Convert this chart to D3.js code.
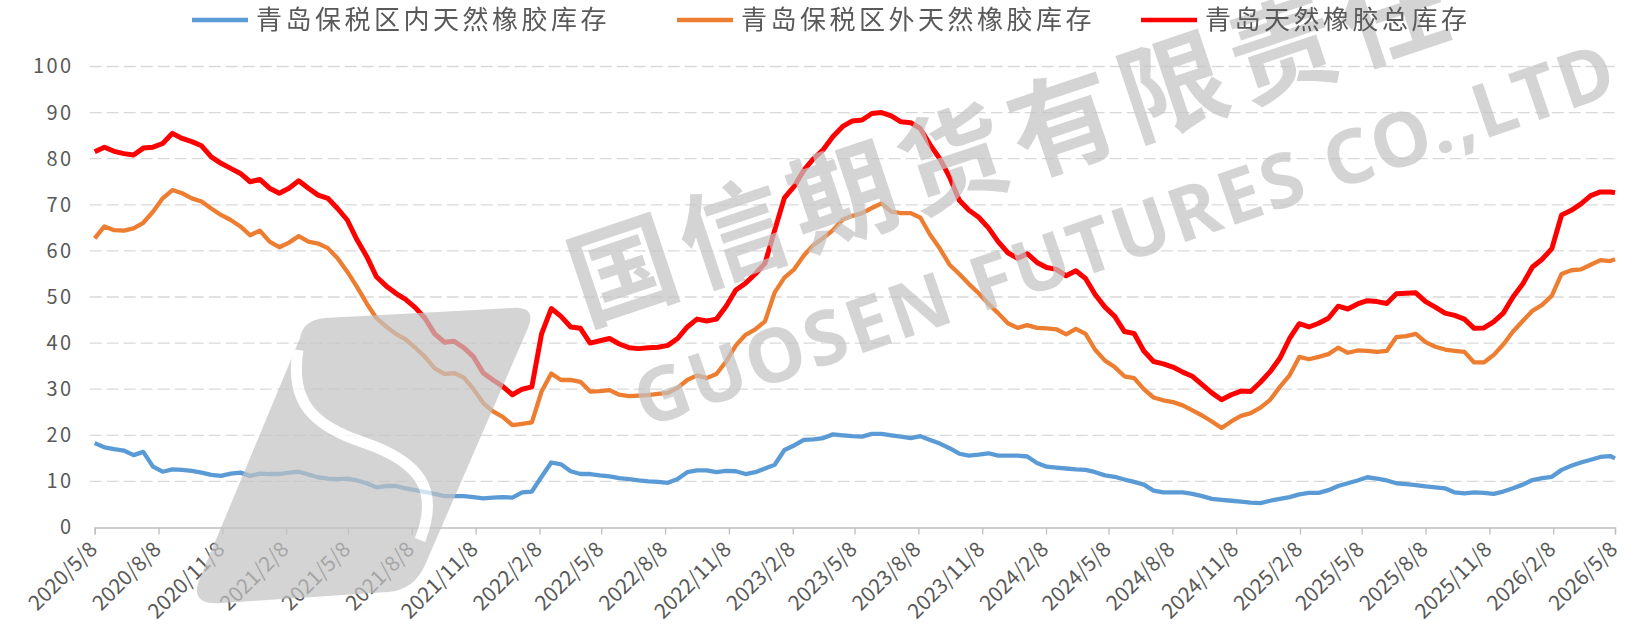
<!DOCTYPE html>
<html>
<head>
<meta charset="utf-8">
<script src="https://cdn.jsdelivr.net/npm/d3@7"></script>
<style>
  body { margin: 0; background: #fff; }
  svg { display: block; }
</style>
</head>
<body>
<div id="chart"></div>
<script>
// Fortnightly readings, 2020/5/8 - 2026/5/8 (10k t)
let dates = [
  '2020-05-08','2020-05-22','2020-06-05','2020-06-19','2020-07-03','2020-07-17','2020-07-31','2020-08-14',
  '2020-08-28','2020-09-11','2020-09-25','2020-10-09','2020-10-23','2020-11-06','2020-11-20','2020-12-04',
  '2020-12-18','2021-01-01','2021-01-15','2021-01-29','2021-02-12','2021-02-26','2021-03-12','2021-03-26',
  '2021-04-09','2021-04-23','2021-05-07','2021-05-21','2021-06-04','2021-06-18','2021-07-02','2021-07-16',
  '2021-07-30','2021-08-13','2021-08-27','2021-09-10','2021-09-24','2021-10-08','2021-10-22','2021-11-05',
  '2021-11-19','2021-12-03','2021-12-17','2021-12-31','2022-01-14','2022-01-28','2022-02-11','2022-02-25',
  '2022-03-11','2022-03-25','2022-04-08','2022-04-22','2022-05-06','2022-05-20','2022-06-03','2022-06-17',
  '2022-07-01','2022-07-15','2022-07-29','2022-08-12','2022-08-26','2022-09-09','2022-09-23','2022-10-07',
  '2022-10-21','2022-11-04','2022-11-18','2022-12-02','2022-12-16','2022-12-30','2023-01-13','2023-01-27',
  '2023-02-10','2023-02-24','2023-03-10','2023-03-24','2023-04-07','2023-04-21','2023-05-05','2023-05-19',
  '2023-06-02','2023-06-16','2023-06-30','2023-07-14','2023-07-28','2023-08-11','2023-08-25','2023-09-08',
  '2023-09-22','2023-10-06','2023-10-20','2023-11-03','2023-11-17','2023-12-01','2023-12-15','2023-12-29',
  '2024-01-12','2024-01-26','2024-02-09','2024-02-23','2024-03-08','2024-03-22','2024-04-05','2024-04-19',
  '2024-05-03','2024-05-17','2024-05-31','2024-06-14','2024-06-28','2024-07-12','2024-07-26','2024-08-09',
  '2024-08-23','2024-09-06','2024-09-20','2024-10-04','2024-10-18','2024-11-01','2024-11-15','2024-11-29',
  '2024-12-13','2024-12-27','2025-01-10','2025-01-24','2025-02-07','2025-02-21','2025-03-07','2025-03-21',
  '2025-04-04','2025-04-18','2025-05-02','2025-05-16','2025-05-30','2025-06-13','2025-06-27','2025-07-11',
  '2025-07-25','2025-08-08','2025-08-22','2025-09-05','2025-09-19','2025-10-03','2025-10-17','2025-10-31',
  '2025-11-14','2025-11-28','2025-12-12','2025-12-26','2026-01-09','2026-01-23','2026-02-06','2026-02-20',
  '2026-03-06','2026-03-20','2026-04-03','2026-04-17','2026-05-01','2026-05-08'
];

// 青岛保税区内
let inBond = [
  18.3, 17.4, 17, 16.7, 15.7, 16.4, 13.2, 12.1, 12.6, 12.5, 12.3, 11.9, 11.4, 11.2, 11.7, 11.9,
  11.2, 11.7, 11.6, 11.6, 11.9, 12.1, 11.5, 10.9, 10.6, 10.5, 10.6, 10.2, 9.6, 8.7, 9, 9,
  8.5, 8.1, 7.7, 7.3, 6.8, 6.8, 6.8, 6.6, 6.3, 6.5, 6.6, 6.5, 7.6, 7.8, 11, 14.1,
  13.7, 12.2, 11.6, 11.6, 11.3, 11.1, 10.7, 10.5, 10.2, 10, 9.9, 9.7, 10.5, 12, 12.4, 12.4,
  12, 12.3, 12.2, 11.6, 12, 12.8, 13.6, 16.8, 17.8, 19, 19.1, 19.4, 20.2, 20, 19.8, 19.7,
  20.3, 20.3, 20, 19.7, 19.4, 19.8, 19, 18.2, 17.2, 16, 15.6, 15.8, 16.1, 15.6, 15.6, 15.6,
  15.4, 14, 13.2, 13, 12.8, 12.6, 12.5, 12, 11.3, 11, 10.4, 9.9, 9.3, 8, 7.6, 7.6,
  7.6, 7.3, 6.8, 6.2, 6, 5.8, 5.6, 5.4, 5.3, 5.8, 6.2, 6.6, 7.2, 7.5, 7.5, 8.1,
  9, 9.6, 10.2, 10.9, 10.6, 10.2, 9.6, 9.4, 9.2, 8.9, 8.7, 8.5, 7.6, 7.4, 7.6, 7.5,
  7.3, 7.8, 8.5, 9.3, 10.3, 10.7, 11, 12.5, 13.4, 14.1, 14.7, 15.3, 15.5, 15
];

// 青岛保税区外
let outBond = [
  62.7, 65.3, 64.5, 64.4, 64.9, 66.1, 68.5, 71.4, 73.2, 72.5, 71.4, 70.7, 69.2, 67.8, 66.7, 65.3,
  63.4, 64.4, 62, 60.8, 61.8, 63.2, 62, 61.6, 60.6, 58.4, 55.5, 52.2, 48.6, 45.4, 43.6, 42,
  40.8, 39, 37, 34.5, 33.3, 33.5, 32.5, 30, 27, 25.2, 24, 22.2, 22.5, 22.8, 29.5, 33.4,
  32, 32, 31.6, 29.5, 29.6, 29.8, 28.8, 28.5, 28.6, 28.7, 29, 29.2, 30.3, 32, 33, 32.4,
  33.3, 36, 39.5, 41.8, 43, 44.7, 51, 54.2, 56, 59, 61.3, 62.8, 64.5, 66.8, 67.6, 68.2,
  69.3, 70.3, 68.5, 68.2, 68.2, 67.2, 63.5, 60.5, 57, 55, 52.8, 50.8, 48.5, 46.5, 44.3, 43.3,
  43.9, 43.3, 43.2, 43, 41.9, 43.1, 42, 38.5, 36.2, 34.8, 32.8, 32.4, 30, 28.2, 27.6, 27.2,
  26.5, 25.4, 24.3, 23, 21.6, 23, 24.2, 24.8, 26, 27.7, 30.5, 33, 37, 36.5, 37, 37.6,
  39, 37.9, 38.4, 38.3, 38.1, 38.3, 41.3, 41.5, 42, 40.2, 39.2, 38.6, 38.3, 38.1, 35.8, 35.8,
  37.4, 39.7, 42.5, 44.8, 47, 48.3, 50.3, 55, 55.8, 56, 57, 58, 57.8, 58.2
];

// 青岛总库存
let total = [
  81.5, 82.5, 81.6, 81.1, 80.8, 82.3, 82.5, 83.3, 85.5, 84.4, 83.7, 82.8, 80.4, 79, 77.9, 76.8,
  75, 75.5, 73.6, 72.5, 73.6, 75.2, 73.6, 72.1, 71.4, 69.2, 66.7, 62.4, 58.8, 54.4, 52.4, 50.8,
  49.5, 47.7, 45.4, 42, 40.2, 40.4, 39, 37, 33.5, 32, 30.6, 28.8, 30, 30.5, 42, 47.5,
  45.8, 43.5, 43.2, 40, 40.5, 41, 39.8, 39, 38.8, 39, 39.1, 39.5, 41, 43.5, 45.2, 44.8,
  45.2, 48, 51.5, 53, 55, 57.3, 64.5, 71.5, 74, 77.5, 80, 82, 84.8, 87, 88.2, 88.4,
  89.8, 90, 89.3, 88, 87.8, 86.5, 83, 80, 76, 71, 68.8, 67.3, 65, 62, 59.6, 58.4,
  59.4, 57.5, 56.4, 56, 54.6, 55.7, 54, 50.5, 47.8, 45.8, 42.5, 42.1, 38.3, 36, 35.5, 34.8,
  33.7, 32.8, 31, 29.2, 27.7, 28.8, 29.6, 29.5, 31.5, 33.8, 36.7, 41, 44.2, 43.5, 44.3, 45.4,
  48, 47.4, 48.5, 49.2, 49, 48.6, 50.7, 50.8, 50.9, 49, 47.8, 46.5, 46, 45.2, 43.2, 43.3,
  44.6, 46.5, 50, 52.8, 56.5, 58.2, 60.5, 67.8, 68.8, 70.2, 72, 72.8, 72.8, 72.6
];

let tickLabels = [
  '2020/5/8','2020/8/8','2020/11/8','2021/2/8','2021/5/8','2021/8/8','2021/11/8',
  '2022/2/8','2022/5/8','2022/8/8','2022/11/8','2023/2/8','2023/5/8','2023/8/8',
  '2023/11/8','2024/2/8','2024/5/8','2024/8/8','2024/11/8','2025/2/8','2025/5/8',
  '2025/8/8','2025/11/8','2026/2/8','2026/5/8'
];
let yTicks = [0, 10, 20, 30, 40, 50, 60, 70, 80, 90, 100];

let seriesNames = ['青岛保税区内天然橡胶库存', '青岛保税区外天然橡胶库存', '青岛天然橡胶总库存'];
let seriesColors = ['#5B9BD5', '#ED7D31', '#FF0000'];

let svgWidth = 1629;
let svgHeight = 629;

let margin = { top: 66.5, right: 14, bottom: 101.5, left: 94.7 };
let width = svgWidth - margin.left - margin.right;
let height = svgHeight - margin.top - margin.bottom;

let parseDay = d3.timeParse('%Y-%m-%d');
let parseTick = d3.timeParse('%Y/%m/%d');
let days = dates.map(parseDay);
let tickDates = tickLabels.map(parseTick);

let svg = d3.select('#chart')
  .append('svg')
  .attr('width', svgWidth)
  .attr('height', svgHeight);

let chartGroup = svg.append('g')
  .attr('transform', `translate(${margin.left}, ${margin.top})`);

let xScale = d3.scaleTime()
  .domain([tickDates[0], tickDates[tickDates.length - 1]])
  .range([0, width]);

let yScale = d3.scaleLinear()
  .domain([0, 100])
  .range([height, 0]);

// Dashed grid
chartGroup.append('g')
  .selectAll('line')
  .data(yTicks.filter(d => d > 0))
  .enter()
  .append('line')
  .attr('x1', -5)
  .attr('x2', width)
  .attr('y1', d => yScale(d))
  .attr('y2', d => yScale(d))
  .attr('stroke', '#d9d9d9')
  .attr('stroke-width', 1.3)
  .attr('stroke-dasharray', '12,5');

// Watermark (company logo + name)
let mark = svg.append('g').attr('opacity', 0.72);

mark.append('path')
  .attr('d', 'M300,338 Q303,320 325,318 L512,308 Q537,306 528,328 L425,565 Q414,590 388,592 L222,603 Q188,606 200,578 Z')
  .attr('fill', '#c4c4c4');

mark.append('path')
  .attr('d', 'M298,350 C290,400 310,425 365,443 C420,462 440,490 420,540')
  .attr('fill', 'none')
  .attr('stroke', '#fff')
  .attr('stroke-width', 11);

let markChars = '国信期货有限责任'.split('');
mark.append('g')
  .attr('transform', 'translate(585,324) rotate(-18.5)')
  .selectAll('text')
  .data(markChars)
  .enter()
  .append('text')
  .attr('x', (d, i) => i * 116)
  .attr('font-family', 'Noto Sans CJK SC')
  .attr('font-weight', 'bold')
  .attr('font-size', 106)
  .attr('fill', '#c4c4c4')
  .text(d => d);

mark.append('text')
  .attr('transform', 'translate(645,428) rotate(-19)')
  .attr('font-family', 'Noto Sans, sans-serif')
  .attr('font-weight', 'bold')
  .attr('font-size', 75)
  .attr('letter-spacing', 3)
  .attr('fill', '#c4c4c4')
  .text('GUOSEN FUTURES CO.,LTD');

// Axes
let bottomAxis = d3.axisBottom(xScale)
  .tickValues(tickDates)
  .tickFormat((d, i) => tickLabels[i])
  .tickSize(7);

let xAxis = chartGroup.append('g')
  .attr('transform', `translate(0, ${height})`)
  .call(bottomAxis);

xAxis.select('.domain').attr('stroke', '#bfbfbf').attr('stroke-width', 1.3);
xAxis.selectAll('.tick line').attr('stroke', '#bfbfbf').attr('stroke-width', 1.3);
xAxis.selectAll('.tick text')
  .attr('x', 0)
  .attr('y', 0)
  .attr('dy', '0.35em')
  .attr('transform', 'translate(-2, 18) rotate(-45)')
  .style('text-anchor', 'end')
  .attr('fill', '#595959')
  .attr('font-size', 21)
  .attr('font-family', 'Noto Sans CJK SC');

let leftAxis = d3.axisLeft(yScale)
  .tickValues(yTicks)
  .tickSize(0)
  .tickPadding(21);

let yAxis = chartGroup.append('g').call(leftAxis);
yAxis.select('.domain').remove();
yAxis.selectAll('.tick text')
  .attr('fill', '#595959')
  .attr('font-size', 20)
  .attr('letter-spacing', 2.5)
  .attr('font-family', 'Noto Sans CJK SC');

// Series lines
let seriesData = [inBond, outBond, total];
let line = d3.line()
  .x((d, i) => xScale(days[i]))
  .y(d => yScale(d));

chartGroup.selectAll('.series')
  .data(seriesData)
  .enter()
  .append('path')
  .attr('class', 'series')
  .attr('fill', 'none')
  .attr('stroke', (d, i) => seriesColors[i])
  .attr('stroke-width', (d, i) => i === 2 ? 5 : 4.3)
  .attr('stroke-linejoin', 'round')
  .attr('d', line);

// Legend
let legendX = [192, 677, 1141];
let legend = svg.append('g').selectAll('g')
  .data(seriesNames)
  .enter()
  .append('g')
  .attr('transform', (d, i) => `translate(${legendX[i]}, 20)`);

legend.append('line')
  .attr('x1', 0)
  .attr('x2', 56)
  .attr('stroke', (d, i) => seriesColors[i])
  .attr('stroke-width', 4.5);

legend.append('text')
  .attr('x', 64)
  .attr('dy', '0.35em')
  .attr('fill', '#595959')
  .attr('font-size', 26)
  .attr('letter-spacing', 3.5)
  .attr('font-family', 'Noto Sans CJK SC')
  .text(d => d);
</script>
</body>
</html>
